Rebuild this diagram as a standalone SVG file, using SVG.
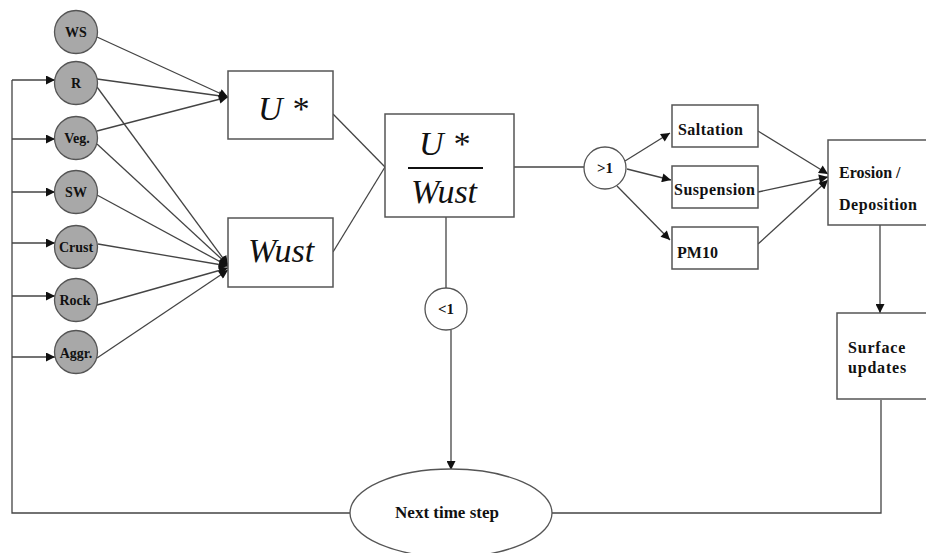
<svg xmlns="http://www.w3.org/2000/svg" width="926" height="553" viewBox="0 0 926 553">
<style>
.ln{stroke:#444;stroke-width:1.3;fill:none}
.arr{marker-end:url(#ah)}
.cir{fill:#a8a8a8;stroke:#555;stroke-width:1.3}
.box{fill:#fff;stroke:#555;stroke-width:1.5}
.lbl{font-family:'Liberation Serif','DejaVu Serif',serif;font-weight:bold;fill:#111}
.sm{font-size:14px;text-anchor:middle}
.md{font-size:16px}
.mth{font-family:'Liberation Serif','DejaVu Serif',serif;font-style:italic;font-size:34px;fill:#111}
</style>
<defs>
<marker id="ah" viewBox="0 0 10 10" refX="10" refY="5" markerWidth="11" markerHeight="9" markerUnits="userSpaceOnUse" orient="auto">
<path d="M0,0 L10,5 L0,10 Z" fill="#111"/>
</marker>
</defs>
<rect width="926" height="553" fill="#fff"/>

<g id="connectors">
<polyline class="ln" points="881,400 881,513 552,513"/>
<polyline class="ln" points="350,513 12,513 12,80"/>
<line class="ln arr" x1="12" y1="80" x2="55" y2="80"/>
<line class="ln arr" x1="12" y1="139" x2="55" y2="139"/>
<line class="ln arr" x1="12" y1="192" x2="55" y2="192"/>
<line class="ln arr" x1="12" y1="243" x2="55" y2="243"/>
<line class="ln arr" x1="12" y1="296" x2="55" y2="296"/>
<line class="ln arr" x1="12" y1="357" x2="55" y2="357"/>
<line class="ln arr" x1="97" y1="37" x2="228" y2="97"/>
<line class="ln arr" x1="97" y1="79" x2="228" y2="97"/>
<line class="ln arr" x1="97" y1="131" x2="228" y2="97"/>
<line class="ln arr" x1="97" y1="87" x2="228" y2="265"/>
<line class="ln arr" x1="97" y1="144" x2="228" y2="265"/>
<line class="ln arr" x1="97" y1="195" x2="228" y2="266"/>
<line class="ln arr" x1="98" y1="244" x2="228" y2="266"/>
<line class="ln arr" x1="97" y1="305" x2="228" y2="268"/>
<line class="ln arr" x1="97" y1="358" x2="228" y2="270"/>
<line class="ln" x1="333" y1="114" x2="385" y2="167"/>
<line class="ln" x1="333" y1="252" x2="385" y2="167"/>
<line class="ln" x1="514" y1="167" x2="584" y2="167"/>
<line class="ln" x1="446" y1="217" x2="446" y2="288"/>
<line class="ln arr" x1="451" y1="330" x2="451" y2="470"/>
<line class="ln arr" x1="625" y1="161" x2="670" y2="133"/>
<line class="ln arr" x1="627" y1="169" x2="671" y2="180"/>
<line class="ln arr" x1="617" y1="186" x2="670" y2="240"/>
<line class="ln arr" x1="758" y1="131" x2="828" y2="174"/>
<line class="ln arr" x1="758" y1="192" x2="828" y2="177"/>
<line class="ln arr" x1="758" y1="244" x2="828" y2="180"/>
<line class="ln arr" x1="880" y1="225" x2="880" y2="313"/>
</g>

<g id="WS"><circle class="cir" cx="76" cy="32" r="21.5"/><text class="lbl sm" x="76" y="37">WS</text></g>
<g id="R"><circle class="cir" cx="76" cy="83" r="21.5"/><text class="lbl sm" x="76" y="88">R</text></g>
<g id="Veg"><circle class="cir" cx="76" cy="138" r="21.5"/><text class="lbl sm" x="77" y="143">Veg.</text></g>
<g id="SW"><circle class="cir" cx="76" cy="192" r="21.5"/><text class="lbl sm" x="76" y="197">SW</text></g>
<g id="Crust"><circle class="cir" cx="76" cy="247" r="21.5"/><text class="lbl sm" x="76" y="252">Crust</text></g>
<g id="Rock"><circle class="cir" cx="76" cy="300" r="21.5"/><text class="lbl sm" x="75" y="305">Rock</text></g>
<g id="Aggr"><circle class="cir" cx="76" cy="352" r="21.5"/><text class="lbl sm" x="76" y="358">Aggr.</text></g>

<g id="Ustar"><rect class="box" x="228" y="71" width="105" height="68"/><text class="mth" x="258" y="120">U *</text></g>
<g id="Wust"><rect class="box" x="228" y="218" width="105" height="69"/><text class="mth" x="248" y="262">Wust</text></g>
<g id="ratio"><rect class="box" x="385" y="114" width="129" height="103"/>
<text class="mth" x="444" y="155" text-anchor="middle">U *</text>
<line x1="408" y1="168" x2="483" y2="168" stroke="#111" stroke-width="2"/>
<text class="mth" x="444" y="203" text-anchor="middle">Wust</text></g>

<g id="gt1"><circle cx="605" cy="168" r="21" fill="#fff" stroke="#555" stroke-width="1.3"/><text class="lbl" font-size="15" x="605" y="173" text-anchor="middle">&gt;1</text></g>
<g id="lt1"><circle cx="446" cy="309" r="21" fill="#fff" stroke="#555" stroke-width="1.3"/><text class="lbl" font-size="15" x="446" y="314" text-anchor="middle">&lt;1</text></g>

<g id="Saltation"><rect class="box" x="672" y="105" width="86" height="42"/><text class="lbl md" x="678" y="135" textLength="65">Saltation</text></g>
<g id="Suspension"><rect class="box" x="672" y="166" width="86" height="42"/><text class="lbl md" x="674" y="195" textLength="81">Suspension</text></g>
<g id="PM10"><rect class="box" x="672" y="227" width="86" height="42"/><text class="lbl md" x="677" y="258">PM10</text></g>

<g id="Erosion"><rect class="box" x="828" y="140" width="110" height="85"/>
<text class="lbl md" x="839" y="178">Erosion /</text>
<text class="lbl md" x="839" y="210" textLength="78">Deposition</text></g>
<g id="Surface"><rect class="box" x="837" y="313" width="100" height="86"/>
<text class="lbl md" x="848" y="353" letter-spacing="0.8">Surface</text>
<text class="lbl md" x="848" y="373" letter-spacing="0.8">updates</text></g>

<g id="NextStep"><ellipse cx="451" cy="513" rx="101" ry="44" fill="#fff" stroke="#555" stroke-width="1.3"/>
<text class="lbl" font-size="17" x="447" y="518" text-anchor="middle">Next time step</text></g>
</svg>
